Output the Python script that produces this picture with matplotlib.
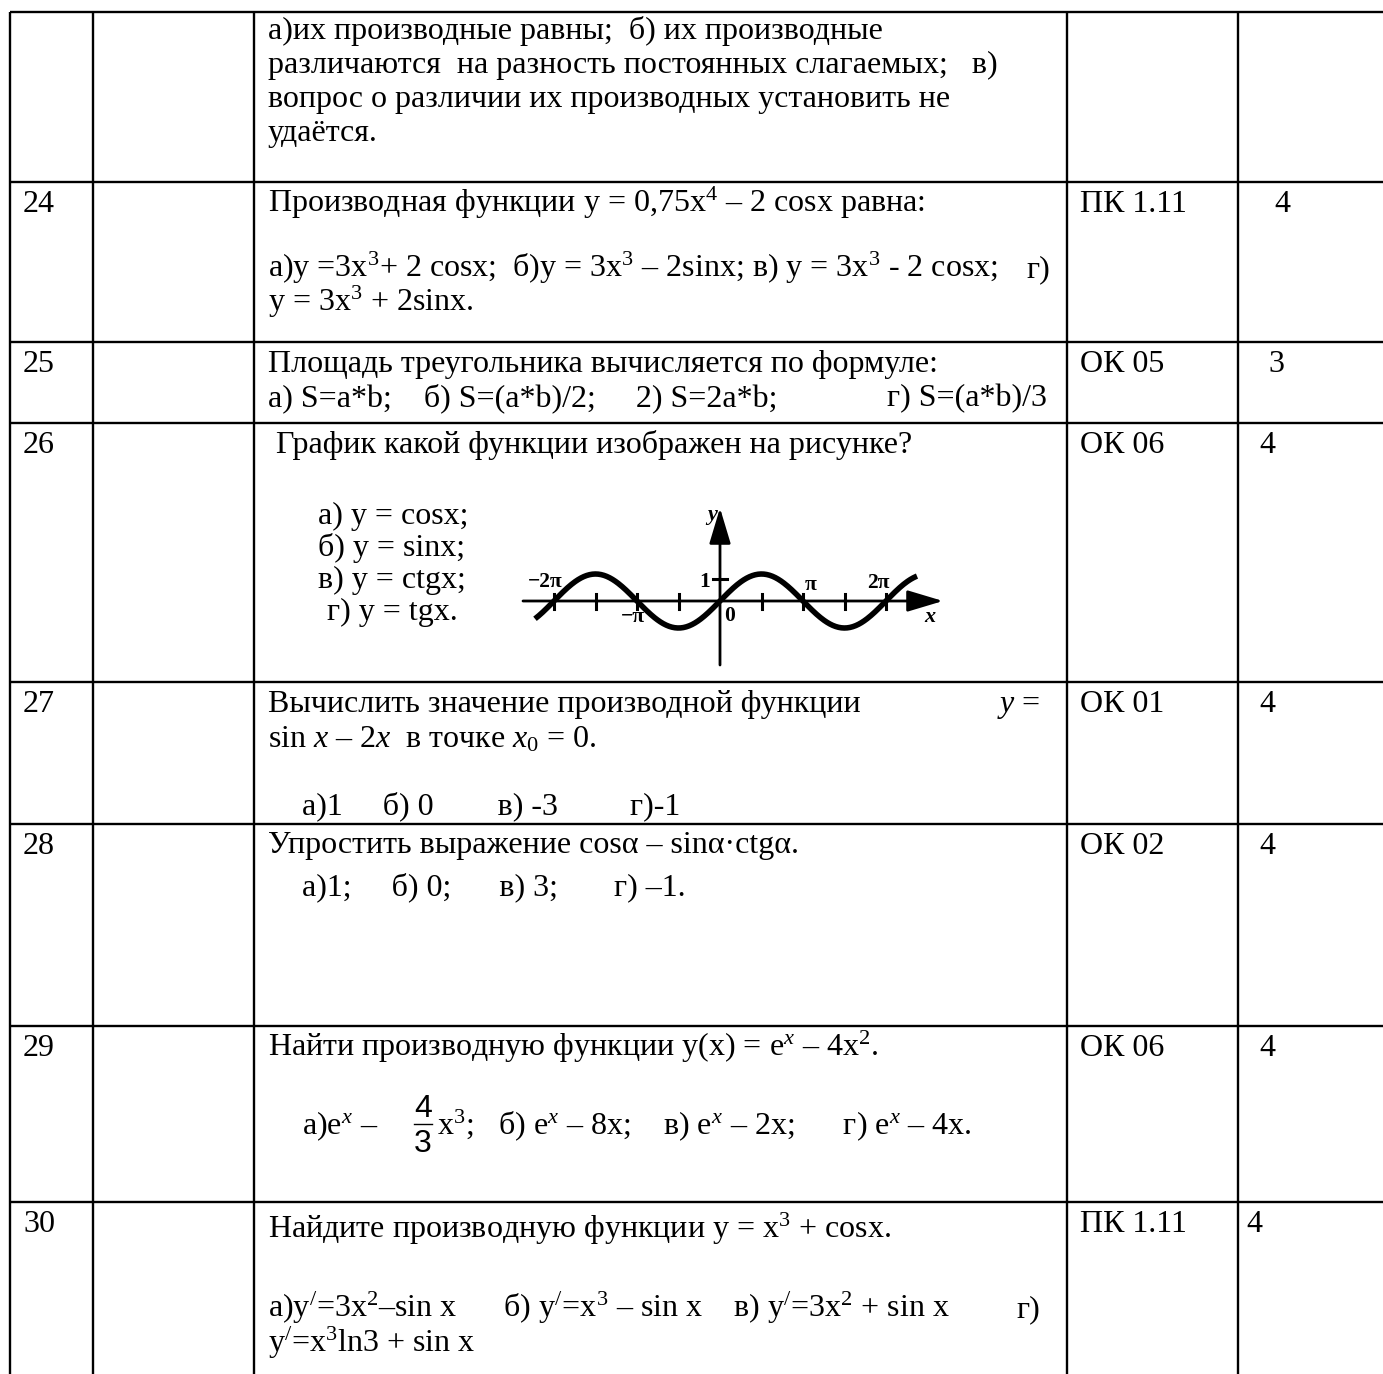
import numpy as np
import matplotlib
matplotlib.use('Agg')
import matplotlib.pyplot as plt

plt.rcParams['font.family'] = ['Liberation Serif', 'DejaVu Serif']
plt.rcParams['mathtext.fontset'] = 'custom'
plt.rcParams['mathtext.rm'] = 'Liberation Serif'
plt.rcParams['mathtext.it'] = 'Liberation Serif:italic'
plt.rcParams['mathtext.bf'] = 'Liberation Serif:bold'

# table contents
nums = ['', '24', '25', '26', '27', '28', '29', '30']
codes = ['', 'ПК 1.11', 'ОК 05', 'ОК 06', 'ОК 01', 'ОК 02', 'ОК 06', 'ПК 1.11']
points = ['', '4', '3', '4', '4', '4', '4', '4']
row_tops = [12, 182, 342, 423, 682, 824, 1026, 1202]
col_x = [10, 93, 254, 1067, 1238]
points_x = [0, 1274, 1268, 1259, 1259, 1259, 1259, 1246]

# (x, baseline, ha, text) for the question column
question_lines = [
    (268, 39, 'left', 'а)их производные равны;  б) их производные'),
    (268, 73, 'left', 'различаются  на разность постоянных слагаемых;   в)'),
    (268, 107, 'left', 'вопрос о различии их производных установить не'),
    (268, 141, 'left', 'удаётся.'),
    (268, 212, 'left', 'Производная функции y = 0,75x$^4$ – 2 cosx равна:'),
    (268, 277, 'left', 'а)y =3x$^3$+ 2 cosx;  б)y = 3x$^3$ – 2sinx; в) y = 3x$^3$ - 2 cosx;'),
    (1050, 277, 'right', 'г)'),
    (268, 311, 'left', 'y = 3x$^3$ + 2sinx.'),
    (268, 372, 'left', 'Площадь треугольника вычисляется по формуле:'),
    (268, 406, 'left', 'а) S=a*b;    б) S=(a*b)/2;     2) S=2a*b;'),
    (1047, 406, 'right', 'г) S=(a*b)/3'),
    (276, 453, 'left', 'График какой функции изображен на рисунке?'),
    (318, 524, 'left', 'а) y = cosx;'),
    (318, 556, 'left', 'б) y = sinx;'),
    (318, 588, 'left', 'в) y = ctgx;'),
    (327, 620, 'left', 'г) y = tgx.'),
    (268, 712, 'left', 'Вычислить значение производной функции'),
    (1040, 712, 'right', r'$\mathit{y}$ ='),
    (268, 747, 'left', r'sin $\mathit{x}$ – 2$\mathit{x}$  в точке $\mathit{x}_0$ = 0.'),
    (302, 814, 'left', 'а)1     б) 0        в) -3         г)-1'),
    (268, 853, 'left', 'Упростить выражение cosα – sinα·ctgα.'),
    (302, 895, 'left', 'а)1;     б) 0;      в) 3;       г) –1.'),
    (268, 1056, 'left', 'Найти производную функции y(x) = e$^x$ – 4x$^2$.'),
    (302, 1134, 'left', 'а)e$^x$ – '),
    (437, 1134, 'left', 'x$^3$;   б) e$^x$ – 8x;    в) e$^x$ – 2x;      г) e$^x$ – 4x.'),
    (268, 1238, 'left', 'Найдите производную функции y = x$^3$ + cosx.'),
    (268, 1317, 'left', 'а)y$^{/}$=3x$^2$–sin x      б) y$^{/}$=x$^3$ – sin x    в) y$^{/}$=3x$^2$ + sin x'),
    (1040, 1317, 'right', 'г)'),
    (268, 1352, 'left', 'y$^{/}$=x$^3$ln3 + sin x'),
]

fs = 23

fig = plt.figure(figsize=(13.83, 13.74), dpi=100)
ax = fig.add_axes([0, 0, 1, 1])
ax.set_xlim(0, 1383)
ax.set_ylim(1374, 0)
ax.axis('off')

# grid
for y in row_tops:
    ax.plot([col_x[0], 1383], [y, y], color='black', lw=1.7, solid_capstyle='butt')
for x in col_x:
    ax.plot([x, x], [row_tops[0], 1374], color='black', lw=1.7, solid_capstyle='butt')

for i in range(len(nums)):
    base = row_tops[i] + 30
    if nums[i]:
        ax.text(23, base, nums[i], fontsize=fs, va='baseline', ha='left')
        ax.text(1080, base, codes[i], fontsize=fs, va='baseline', ha='left')
        ax.text(points_x[i], base, points[i], fontsize=fs, va='baseline', ha='left')

for x, y, ha, s in question_lines:
    ax.text(x, y, s, fontsize=fs, va='baseline', ha=ha)

# fraction 4/3 in row 29
ax.text(423, 1117, '4', fontsize=fs, family='Liberation Sans', ha='center', va='baseline')
ax.plot([414, 432], [1124, 1124], color='black', lw=1.0)
ax.text(423, 1152, '3', fontsize=fs, family='Liberation Sans', ha='center', va='baseline')

# sine graph in row 26
px_pi = 83.0
px_unit = 27.0
x0, y0 = 720, 601
g_left, g_right, g_top, g_bottom = 510, 960, 495, 675
gax = fig.add_axes([g_left / 1383, 1 - g_bottom / 1374,
                    (g_right - g_left) / 1383, (g_bottom - g_top) / 1374])
gax.set_xlim((g_left - x0) * np.pi / px_pi, (g_right - x0) * np.pi / px_pi)
gax.set_ylim((y0 - g_bottom) / px_unit, (y0 - g_top) / px_unit)
gax.axis('off')


def gx(px):
    return (px - x0) * np.pi / px_pi


def gy(py):
    return (y0 - py) / px_unit


t = np.linspace(gx(535), gx(917), 400)
gax.plot(t, np.sin(t), color='black', lw=4.0, solid_capstyle='butt')

arrow = dict(arrowstyle='-|>,head_length=1.0,head_width=0.3', color='black', lw=2.0,
             mutation_scale=22, shrinkA=0, shrinkB=0)
gax.annotate('', xy=(gx(943), 0), xytext=(gx(523), 0), arrowprops=arrow)
gax.annotate('', xy=(0, gy(508)), xytext=(0, gy(665)), arrowprops=arrow)

tick_pos = [-2, -1.5, -1, -0.5, 0.5, 1, 1.5, 2]
for k in tick_pos:
    gax.plot([k * np.pi, k * np.pi], [-7.5 / px_unit, 7.5 / px_unit], color='black', lw=2.2)
gax.plot([gx(713), gx(727)], [gy(579), gy(579)], color='black', lw=2.2)

graph_labels = [(545, 582, '−2π'), (705, 582, '1'), (811, 585, 'π'), (878, 583, '2π'),
                (633, 617, '−π'), (730, 616, '0')]
for px, py, s in graph_labels:
    gax.text(gx(px), gy(py), s, fontsize=15.5, fontweight='bold', ha='center', va='center')
gax.text(gx(712), gy(515), 'y', fontsize=16, fontweight='bold', style='italic', ha='center', va='center')
gax.text(gx(930), gy(617), 'x', fontsize=16, fontweight='bold', style='italic', ha='center', va='center')

fig.savefig('out.png', dpi=100)
